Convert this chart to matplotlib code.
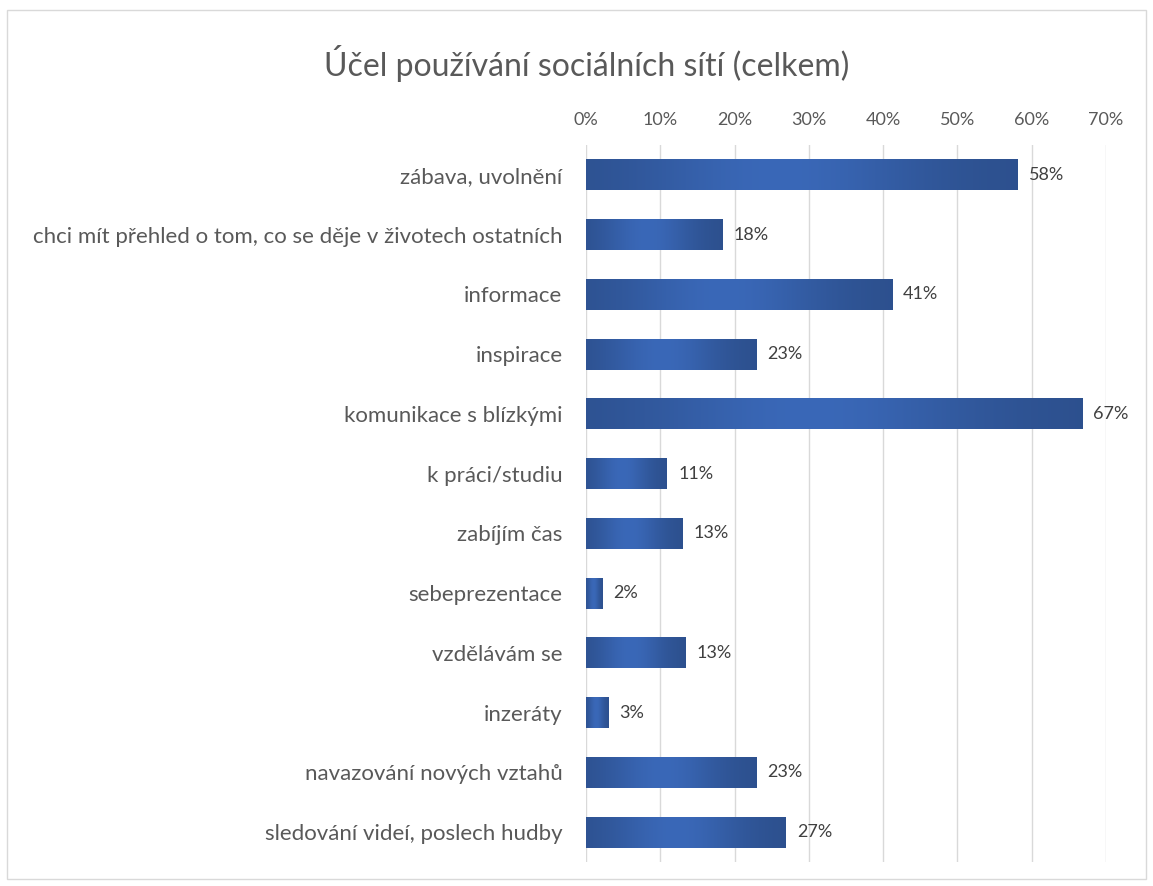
import numpy as np
import matplotlib.pyplot as plt
from matplotlib.patches import Rectangle
from matplotlib.ticker import FuncFormatter

plt.rcParams['font.family'] = ['Lato', 'DejaVu Sans']

categories = ['zábava, uvolnění',
              'chci mít přehled o tom, co se děje v životech ostatních',
              'informace', 'inspirace', 'komunikace s blízkými',
              'k práci/studiu', 'zabíjím čas', 'sebeprezentace',
              'vzdělávám se', 'inzeráty', 'navazování nových vztahů',
              'sledování videí, poslech hudby']
values = [58.1, 18.4, 41.2, 22.9, 66.8, 10.9, 13.0, 2.2, 13.4, 3.0, 22.9, 26.9]
ticks = [0, 10, 20, 30, 40, 50, 60, 70]

fig = plt.figure(figsize=(11.53, 8.86), dpi=100)
fig.patches.append(Rectangle((7 / 1153, 7 / 886), 1139 / 1153, 869 / 886,
                             transform=fig.transFigure, fill=False,
                             edgecolor='#d9d9d9', linewidth=1))
ax = fig.add_axes([586 / 1153, 1 - 862 / 886, 520 / 1153, 717 / 886])

n = len(categories)
ypos = np.arange(n)
bars = ax.barh(ypos, values, height=0.52, color='none')

# gradient: dark at the edges, lighter in the middle
g = np.linspace(0, 1, 256)
w = np.exp(-((g - 0.45) / 0.33) ** 2)
dark = np.array([0x2c, 0x4f, 0x8c]) / 255
light = np.array([0x3a, 0x68, 0xb8]) / 255
grad = dark[None, :] * (1 - w[:, None]) + light[None, :] * w[:, None]
grad = grad[None, :, :]
for b in bars:
    x0, y0 = b.get_x(), b.get_y()
    im = ax.imshow(grad, extent=[x0, x0 + b.get_width(), y0, y0 + b.get_height()],
                   aspect='auto', zorder=2, interpolation='bilinear')
    im.set_clip_path(b)
    ax.text(b.get_width() + 1.5, y0 + b.get_height() / 2, f'{round(b.get_width())}%',
            va='center', ha='left', fontsize=13, color='#404040')

ax.set_xlim(0, 70)
ax.set_ylim(n - 0.5, -0.5)
ax.set_xticks(ticks)
ax.xaxis.set_major_formatter(FuncFormatter(lambda v, p: f'{v:.0f}%'))
ax.xaxis.tick_top()
ax.set_yticks(ypos)
ax.set_yticklabels(categories)
ax.tick_params(axis='x', length=0, pad=12, labelsize=13, labelcolor='#595959')
ax.tick_params(axis='y', length=0, pad=17, labelsize=16, labelcolor='#595959')
ax.grid(axis='x', color='#d9d9d9', linewidth=1)
ax.set_axisbelow(True)
for s in ax.spines.values():
    s.set_visible(False)

fig.text(587 / 1153, 1 - 63 / 886, 'Účel používání sociálních sítí (celkem)',
         ha='center', va='center', fontsize=23, color='#595959')

fig.savefig('out.png', dpi=100)
